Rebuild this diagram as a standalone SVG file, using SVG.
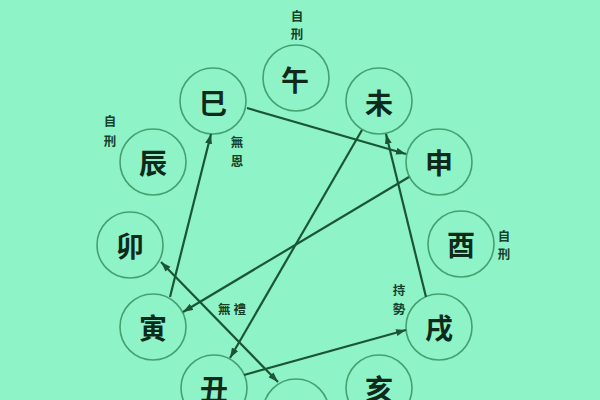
<svg xmlns="http://www.w3.org/2000/svg" width="600" height="400" viewBox="0 0 600 400">
<style>
.node circle{fill:#8ef3c7;stroke:#45a070;stroke-width:1.6}
.node text{font-family:"Noto Sans CJK TC","Noto Sans CJK SC",sans-serif;font-size:28px;font-weight:600;fill:#0d2a1a;text-anchor:middle;dominant-baseline:central}
.note{font-family:"Noto Sans CJK TC","Noto Sans CJK SC",sans-serif;font-size:12.5px;font-weight:700;fill:#15402a;text-anchor:middle;dominant-baseline:central}
.edges line{stroke:#1b5534;stroke-width:2.2}
</style>
<defs>
<marker id="ah" markerUnits="userSpaceOnUse" markerWidth="11" markerHeight="8" refX="10" refY="3.5" orient="auto-start-reverse">
<path d="M0,0 L10,3.5 L0,7 z" fill="#1b5534"/>
</marker>
</defs>
<rect width="600" height="400" fill="#8ef3c7"/>
<g id="n-wu" class="node"><circle cx="296" cy="78" r="33"/><text x="295" y="79">午</text></g>
<g id="n-wei" class="node"><circle cx="379" cy="101" r="33"/><text x="379" y="102">未</text></g>
<g id="n-shen" class="node"><circle cx="439" cy="162" r="33"/><text x="439" y="162">申</text></g>
<g id="n-you" class="node"><circle cx="461" cy="244" r="33"/><text x="461" y="244">酉</text></g>
<g id="n-xu" class="node"><circle cx="439" cy="327" r="33"/><text x="439" y="327">戌</text></g>
<g id="n-hai" class="node"><circle cx="379" cy="388" r="33"/><text x="379" y="388">亥</text></g>
<g id="n-zi" class="node"><circle cx="296" cy="412" r="33"/><text x="296" y="412">子</text></g>
<g id="n-chou" class="node"><circle cx="214" cy="388" r="33"/><text x="214" y="388">丑</text></g>
<g id="n-yin" class="node"><circle cx="153" cy="327" r="33"/><text x="153" y="327">寅</text></g>
<g id="n-mao" class="node"><circle cx="130" cy="245" r="33"/><text x="130" y="245">卯</text></g>
<g id="n-chen" class="node"><circle cx="153" cy="162" r="33"/><text x="153" y="162">辰</text></g>
<g id="n-si" class="node"><circle cx="213" cy="101" r="33"/><text x="213" y="102">巳</text></g>
<g id="labels">
<text class="note" x="297" y="15">自</text><text class="note" x="297" y="33">刑</text>
<text class="note" x="110" y="120">自</text><text class="note" x="110" y="140">刑</text>
<text class="note" x="237" y="141">無</text><text class="note" x="237" y="160">恩</text>
<text class="note" x="504" y="235">自</text><text class="note" x="504" y="253">刑</text>
<text class="note" x="399" y="289">持</text><text class="note" x="399" y="308">勢</text>
<text class="note" x="232" y="308">無 禮</text>
</g>
<g id="connectors" class="edges">
<line x1="247" y1="108" x2="406" y2="154" marker-end="url(#ah)"/>
<line x1="409" y1="177" x2="183" y2="312" marker-end="url(#ah)"/>
<line x1="170" y1="297" x2="211" y2="134" marker-end="url(#ah)"/>
<line x1="362" y1="130" x2="230" y2="358" marker-end="url(#ah)"/>
<line x1="244" y1="375" x2="406" y2="330" marker-end="url(#ah)"/>
<line x1="426" y1="297" x2="386" y2="134" marker-end="url(#ah)"/>
<line x1="161" y1="262" x2="278" y2="382" marker-start="url(#ah)" marker-end="url(#ah)"/>
</g>
</svg>
